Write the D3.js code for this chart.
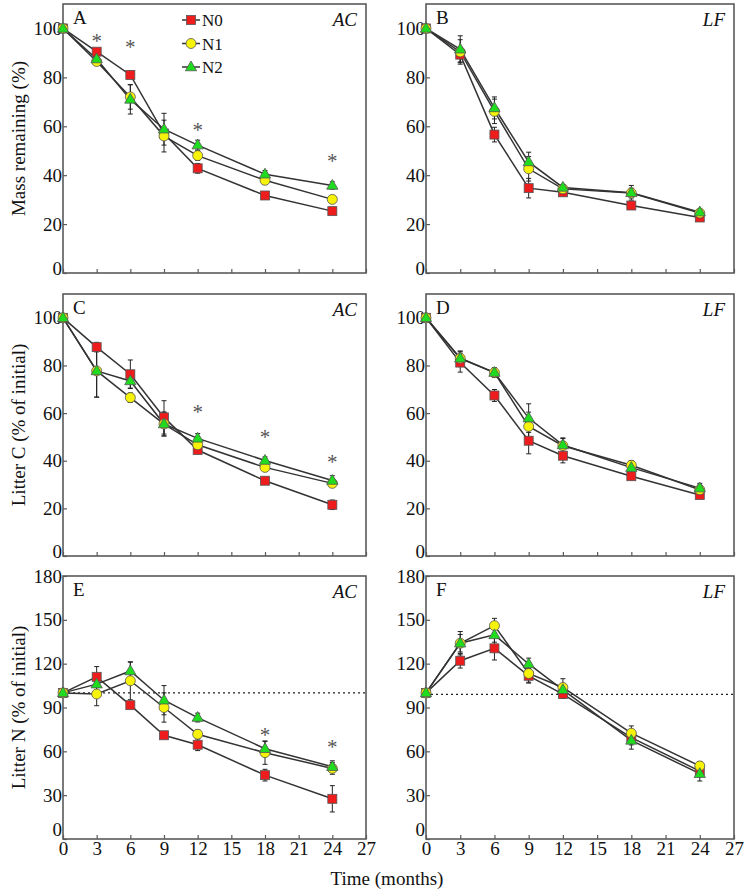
<!DOCTYPE html>
<html>
<head>
<meta charset="utf-8">
<script src="https://cdn.jsdelivr.net/npm/d3@7"></script>
<style>
  body { margin: 0; background: #fff; }
  text { font-family: "Liberation Serif", "Times New Roman", serif; }
</style>
</head>
<body>
<div id="chart"></div>
<script>
// sampling times (months)
var months = [0, 3, 6, 9, 12, 18, 24];
var xTicks = [0, 3, 6, 9, 12, 15, 18, 21, 24, 27];
var seriesNames = ["N0", "N1", "N2"];

// A: mass remaining, AC
var massAC_N0 = [100, 90.5, 81, 57, 42.8, 31.7, 25.3];
var massAC_N1 = [100, 86.5, 72, 56, 48, 37.9, 30.1];
var massAC_N2 = [100, 87.5, 71, 58.8, 52.3, 40.4, 35.8];
var massAC_N0_se = [0, 1, 1.5, 2, 2, 1, 1];
var massAC_N1_se = [0, 1.5, 5, 6.5, 2, 1.5, 1.5];
var massAC_N2_se = [0, 1.5, 6, 6.5, 2, 1.5, 1.5];
// B: mass remaining, LF
var massLF_N0 = [100, 89.3, 56.6, 34.7, 33, 27.6, 22.7];
var massLF_N1 = [100, 90.4, 66.1, 42.6, 34.4, 32.7, 24.5];
var massLF_N2 = [100, 91.5, 67.5, 45.4, 35, 32.8, 24.9];
var massLF_N0_se = [0, 3, 3, 4, 1, 1.5, 1];
var massLF_N1_se = [0, 5, 5, 5, 1.5, 2, 1];
var massLF_N2_se = [0, 5.5, 4.5, 4, 1, 3, 1];
// C: litter C, AC
var carbAC_N0 = [100, 87.7, 76.3, 58.2, 44.5, 31.6, 21.5];
var carbAC_N1 = [100, 77.7, 66.5, 55.4, 46.7, 37.2, 30.5];
var carbAC_N2 = [100, 77.7, 73.5, 55.4, 49.4, 40.1, 31.7];
var carbAC_N0_se = [0, 2, 6, 7, 1.5, 1.5, 2];
var carbAC_N1_se = [0, 11, 2, 5, 2, 1.5, 1.5];
var carbAC_N2_se = [0, 11, 3, 5, 2, 1.5, 2];
// D: litter C, LF
var carbLF_N0 = [100, 81.2, 67.4, 48.4, 42.1, 33.5, 25.6];
var carbLF_N1 = [100, 83, 77, 54.4, 46.3, 38.1, 27.8];
var carbLF_N2 = [100, 83, 77, 57.9, 46.6, 37.1, 28.5];
var carbLF_N0_se = [0, 4, 2.5, 5.5, 3, 1.5, 1];
var carbLF_N1_se = [0, 3, 2, 6, 3, 2, 2];
var carbLF_N2_se = [0, 3, 2, 6, 3, 2, 2];
// E: litter N, AC
var nitrAC_N0 = [100, 111, 91.6, 71, 64.5, 43.7, 27.5];
var nitrAC_N1 = [100, 99.2, 108.3, 90, 71.7, 59.1, 48.3];
var nitrAC_N2 = [100, 106, 115, 95, 83.1, 61.8, 49.5];
var nitrAC_N0_se = [0, 7, 2, 2, 4, 4, 9];
var nitrAC_N1_se = [0, 8, 13, 10, 3, 8, 4];
var nitrAC_N2_se = [0, 4, 6, 10, 3, 5, 4];
// F: litter N, LF
var nitrLF_N0 = [100, 122, 130.5, 111.7, 99.2, 69.4, 46.5];
var nitrLF_N1 = [100, 134, 146, 113.3, 103.7, 72.4, 50];
var nitrLF_N2 = [100, 134, 139.7, 119.8, 102.1, 67.5, 44.7];
var nitrLF_N0_se = [0, 5, 8, 5, 3, 5, 3];
var nitrLF_N1_se = [0, 8, 5, 6, 6, 5, 3];
var nitrLF_N2_se = [0, 6, 5, 4, 4, 6, 5];

// significance marks (month, height)
var starsA_x = [3, 6, 12, 24], starsA_y = [96.5, 94, 60, 47.5];
var starsC_x = [12, 18, 24], starsC_y = [62, 51.5, 41];
var starsE_x = [18, 24], starsE_y = [74, 65.5];

var yTicks110 = [0, 20, 40, 60, 80, 100];
var yTicks180 = [0, 30, 60, 90, 120, 150, 180];

var colours = {N0: "#ee1c1c", N1: "#f6f20a", N2: "#1fdc1f"};
var lineCol = "#333";
var axisCol = "#5a5a5a";

var width = 750, height = 891;
var svg = d3.select("#chart").append("svg")
	.attr("width", width)
	.attr("height", height);

var cols = [[63, 366], [426, 734]];
var rows = [[4, 273], [294, 556], [576, 839]];

var panels = [
	{letter: "A", site: "AC", col: 0, row: 0, ymax: 110, yt: yTicks110,
		vals: [massAC_N0, massAC_N1, massAC_N2], se: [massAC_N0_se, massAC_N1_se, massAC_N2_se],
		title: "Mass remaining (%)", legend: true, sx: starsA_x, sy: starsA_y},
	{letter: "B", site: "LF", col: 1, row: 0, ymax: 110, yt: yTicks110,
		vals: [massLF_N0, massLF_N1, massLF_N2], se: [massLF_N0_se, massLF_N1_se, massLF_N2_se]},
	{letter: "C", site: "AC", col: 0, row: 1, ymax: 110, yt: yTicks110,
		vals: [carbAC_N0, carbAC_N1, carbAC_N2], se: [carbAC_N0_se, carbAC_N1_se, carbAC_N2_se],
		title: "Litter C (% of initial)", sx: starsC_x, sy: starsC_y},
	{letter: "D", site: "LF", col: 1, row: 1, ymax: 110, yt: yTicks110,
		vals: [carbLF_N0, carbLF_N1, carbLF_N2], se: [carbLF_N0_se, carbLF_N1_se, carbLF_N2_se]},
	{letter: "E", site: "AC", col: 0, row: 2, ymax: 180, yt: yTicks180,
		vals: [nitrAC_N0, nitrAC_N1, nitrAC_N2], se: [nitrAC_N0_se, nitrAC_N1_se, nitrAC_N2_se],
		title: "Litter N (% of initial)", ref: 100, sx: starsE_x, sy: starsE_y},
	{letter: "F", site: "LF", col: 1, row: 2, ymax: 180, yt: yTicks180,
		vals: [nitrLF_N0, nitrLF_N1, nitrLF_N2], se: [nitrLF_N0_se, nitrLF_N1_se, nitrLF_N2_se],
		ref: 99}
];

function drawMarker(g, name, x, y) {
	if (name == "N0") {
		g.append("rect").attr("x", x - 4.5).attr("y", y - 4.5)
			.attr("width", 9).attr("height", 9)
			.attr("fill", colours.N0).attr("stroke", "#555").attr("stroke-width", 0.8);
	} else if (name == "N1") {
		g.append("circle").attr("cx", x).attr("cy", y).attr("r", 5)
			.attr("fill", colours.N1).attr("stroke", "#555").attr("stroke-width", 0.8);
	} else {
		g.append("path").attr("d", d3.symbol().type(d3.symbolTriangle).size(55)())
			.attr("transform", "translate(" + x + "," + (y + 0.5) + ")")
			.attr("fill", colours.N2).attr("stroke", "#555").attr("stroke-width", 0.8);
	}
}

panels.forEach(function(p) {
	var x0 = cols[p.col][0], x1 = cols[p.col][1];
	var y0 = rows[p.row][0], y1 = rows[p.row][1];
	var x = d3.scaleLinear().domain([0, 27]).range([x0, x1]);
	var y = d3.scaleLinear().domain([0, p.ymax]).range([y1, y0]);
	var g = svg.append("g");

	// frame
	g.append("rect").attr("x", x0).attr("y", y0)
		.attr("width", x1 - x0).attr("height", y1 - y0)
		.attr("fill", "none").attr("stroke", axisCol).attr("stroke-width", 1.6);

	// x axis (ticks inward)
	var xAxis = d3.axisBottom(x).tickValues(xTicks).tickSizeInner(-4).tickSizeOuter(0)
		.tickFormat(p.row == 2 ? d3.format("d") : "");
	var gx = g.append("g").attr("transform", "translate(0," + y1 + ")").call(xAxis);
	gx.select(".domain").remove();
	gx.selectAll("line").attr("stroke", axisCol).attr("stroke-width", 1.2);
	gx.selectAll("text").attr("font-size", 19).attr("fill", "#111")
		.attr("dy", "0.6em").attr("y", 5);

	// y axis (ticks inward)
	var yAxis = d3.axisLeft(y).tickValues(p.yt).tickSizeInner(-4).tickSizeOuter(0);
	var gy = g.append("g").attr("transform", "translate(" + x0 + ",0)").call(yAxis);
	gy.select(".domain").remove();
	gy.selectAll("line").attr("stroke", axisCol).attr("stroke-width", 1.2);
	gy.selectAll("text").attr("font-size", 19).attr("fill", "#111").attr("x", -1);
	gy.selectAll(".tick").filter(function(d) { return d == 0; })
		.select("text").attr("dy", p.row == 2 ? "-0.2em" : "0.1em");

	// reference line
	if (p.ref) {
		g.append("line").attr("x1", x0).attr("x2", x1)
			.attr("y1", y(p.ref)).attr("y2", y(p.ref))
			.attr("stroke", "#222").attr("stroke-width", 1.3)
			.attr("stroke-dasharray", "2,3");
	}

	var line = d3.line().x(function(d, i) { return x(months[i]); })
		.y(function(d) { return y(d); });

	// lines
	p.vals.forEach(function(v) {
		g.append("path").datum(v).attr("d", line)
			.attr("fill", "none").attr("stroke", lineCol).attr("stroke-width", 1.5);
	});

	// error bars
	p.vals.forEach(function(v, s) {
		v.forEach(function(val, i) {
			var e = p.se[s][i];
			if (!e) return;
			var cx = x(months[i]);
			g.append("line").attr("x1", cx).attr("x2", cx)
				.attr("y1", y(val - e)).attr("y2", y(val + e))
				.attr("stroke", "#222").attr("stroke-width", 1);
			[val - e, val + e].forEach(function(t) {
				g.append("line").attr("x1", cx - 2.5).attr("x2", cx + 2.5)
					.attr("y1", y(t)).attr("y2", y(t))
					.attr("stroke", "#222").attr("stroke-width", 1);
			});
		});
	});

	// markers
	p.vals.forEach(function(v, s) {
		v.forEach(function(val, i) {
			drawMarker(g, seriesNames[s], x(months[i]), y(val));
		});
	});

	// asterisks
	if (p.sx) {
		p.sx.forEach(function(m, i) {
			g.append("text").attr("x", x(m)).attr("y", y(p.sy[i]) + 11)
				.attr("text-anchor", "middle").attr("font-size", 21)
				.attr("fill", "#555").text("*");
		});
	}

	// panel letter and site
	g.append("text").attr("x", x0 + 10).attr("y", y0 + 20)
		.attr("font-size", 19).attr("fill", "#111").text(p.letter);
	g.append("text").attr("x", x1 - 9).attr("y", y0 + 22)
		.attr("text-anchor", "end").attr("font-size", 19).attr("font-style", "italic")
		.attr("fill", "#111").text(p.site);

	// y title
	if (p.title) {
		g.append("text")
			.attr("transform", "translate(25," + ((y0 + y1) / 2) + ") rotate(-90)")
			.attr("text-anchor", "middle").attr("font-size", 19).attr("fill", "#111")
			.text(p.title);
	}

	// legend
	if (p.legend) {
		seriesNames.forEach(function(n, i) {
			var ly = 20 + i * 23.5;
			g.append("line").attr("x1", 182).attr("x2", 200)
				.attr("y1", ly).attr("y2", ly)
				.attr("stroke", lineCol).attr("stroke-width", 1.5);
			drawMarker(g, n, 191, ly);
			g.append("text").attr("x", 202).attr("y", ly + 6)
				.attr("font-size", 17).attr("fill", "#111").text(n);
		});
	}
});

// x title
svg.append("text").attr("x", 387).attr("y", 885)
	.attr("text-anchor", "middle").attr("font-size", 19).attr("fill", "#111")
	.text("Time (months)");
</script>
</body>
</html>
